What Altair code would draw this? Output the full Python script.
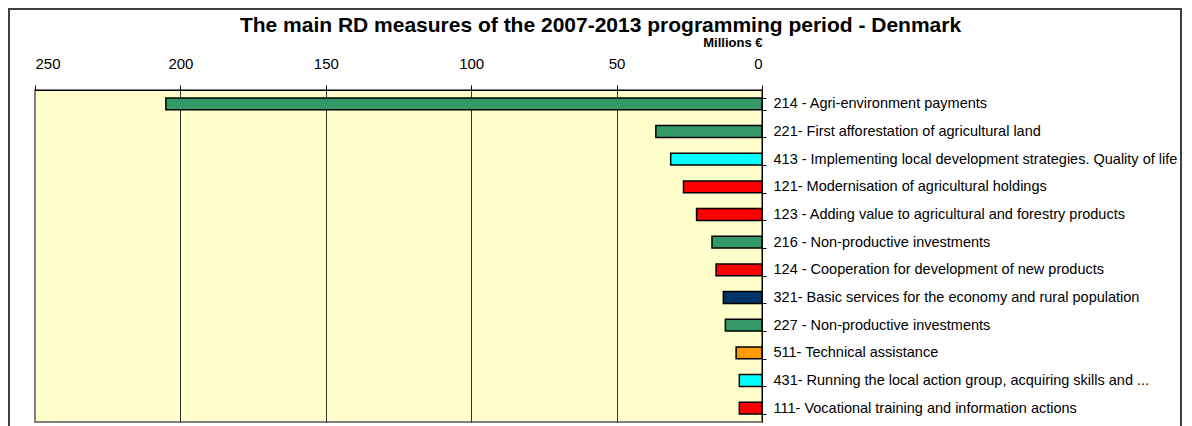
import altair as alt
import pandas as pd

measures = [
    "214 - Agri-environment payments",
    "221- First afforestation of agricultural land",
    "413 - Implementing local development strategies. Quality of life",
    "121- Modernisation of agricultural holdings",
    "123 - Adding value to agricultural and forestry products",
    "216 - Non-productive investments",
    "124 - Cooperation for development of new products",
    "321- Basic services for the economy and rural population",
    "227 - Non-productive investments",
    "511- Technical assistance",
    "431- Running the local action group, acquiring skills and ...",
    "111- Vocational training and information actions",
]
values = [205.0, 36.5, 31.4, 27.0, 22.5, 17.2, 15.8, 13.3, 12.6, 8.9, 7.8, 7.8]
x_ticks = [0, 50, 100, 150, 200, 250]

group_of_digit = {"1": "Axis 1", "2": "Axis 2", "3": "Axis 3", "4": "Axis 4", "5": "Technical assistance"}
group_names = ["Axis 1", "Axis 2", "Axis 3", "Axis 4", "Technical assistance"]
group_colors = ["#FF0000", "#339966", "#003366", "#00FFFF", "#FF9900"]

df = pd.DataFrame({
    "measure": measures,
    "value": values,
    "group": [group_of_digit[m[0]] for m in measures],
})

FONT = "Liberation Sans"

bars = alt.Chart(df).mark_bar(stroke="black", strokeWidth=1.5).encode(
    x=alt.X(
        "value:Q",
        scale=alt.Scale(domain=[0, 250], reverse=True, nice=False, zero=True),
        axis=alt.Axis(
            orient="top",
            values=x_ticks,
            title="Millions €",
            titleFont=FONT,
            titleFontSize=13,
            titleFontWeight="bold",
            titleColor="black",
            titleAnchor="start",
            titleAlign="right",
            titlePadding=7,
            labelFont=FONT,
            labelFontSize=15,
            labelColor="black",
            labelPadding=14,
            tickSize=5,
            tickColor="black",
            domainColor="black",
            grid=True,
            gridColor={"condition": {"test": "datum.value === 250 || datum.value === 0", "value": "#808080"}, "value": "#333333"},
            gridOpacity=1,
        ),
    ),
    y=alt.Y(
        "measure:N",
        sort=None,
        scale=alt.Scale(paddingInner=0.57, paddingOuter=0.285),
        axis=alt.Axis(
            orient="right",
            title=None,
            labelFont=FONT,
            labelFontSize=14.5,
            labelColor="black",
            labelLimit=600,
            labelPadding=7,
            tickSize=4,
            tickBand="extent",
            tickColor="black",
            domainColor="black",
            grid=False,
        ),
    ),
    color=alt.Color("group:N", scale=alt.Scale(domain=group_names, range=group_colors), legend=None),
)

frame = alt.Chart(df).mark_rect(filled=False, stroke="#404040", strokeWidth=2, clip=False).encode(
    x=alt.value(-26), x2=alt.value(1146), y=alt.value(-81), y2=alt.value(420)
)

chart = alt.layer(bars, frame).properties(
    width=727,
    height=332,
    title=alt.TitleParams(
        "The main RD measures of the 2007-2013 programming period - Denmark",
        font=FONT,
        fontSize=21,
        fontWeight="bold",
        color="black",
        anchor="middle",
        dx=202,
        dy=32,
        offset=4,
    ),
    autosize=alt.AutoSizeParams(type="none"),
    padding={"left": 27, "top": 82, "right": 420, "bottom": 4},
).configure(background="white").configure_view(
    fill="#FFFFCC", stroke="#808080", strokeWidth=2
)

chart.save("out.html", embed_options={"renderer": "svg", "actions": False})
